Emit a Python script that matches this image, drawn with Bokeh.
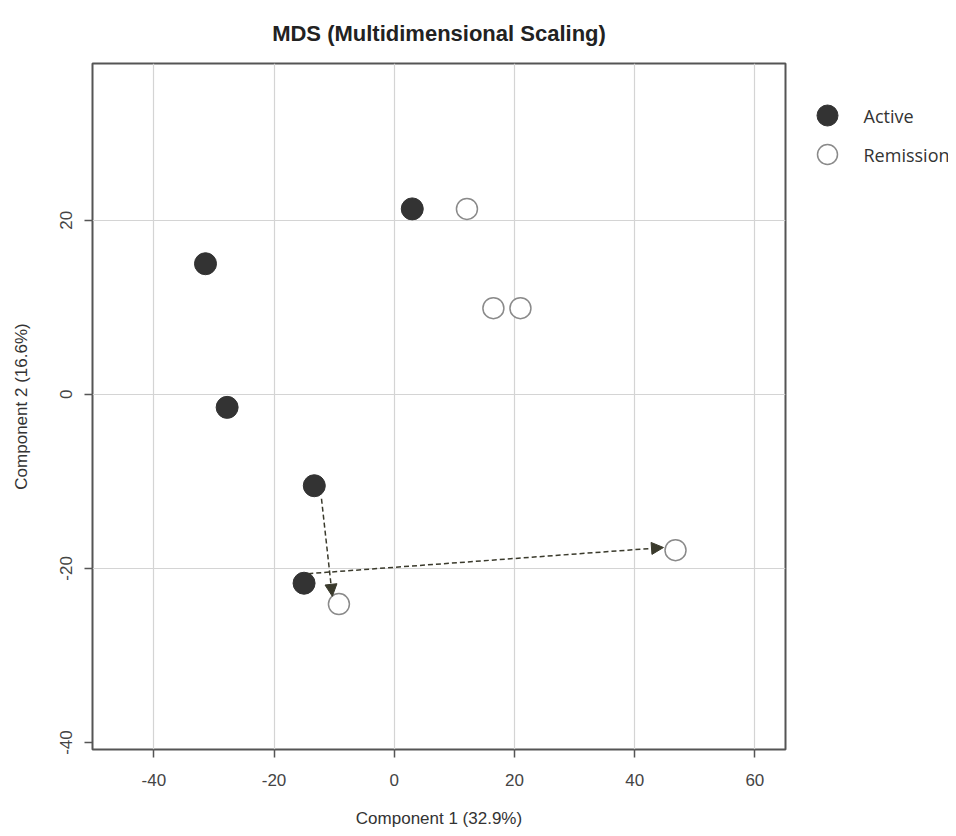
from bokeh.plotting import figure
from bokeh.models import (Range1d, FixedTicker, Arrow, NormalHead, ColumnDataSource, Title)
from bokeh.layouts import row
from bokeh.embed import file_html
from bokeh.resources import INLINE
from bokeh.core.properties import value

# ---- data ----
active_x = [3.0, -31.4, -27.8, -13.3, -15.0]
active_y = [21.3, 15.0, -1.5, -10.5, -21.7]
remission_x = [12.1, 16.5, 21.0, -9.2, 46.8]
remission_y = [21.3, 9.9, 9.9, -24.1, -17.9]

arrow_x0 = [-12.1, -14.3]
arrow_y0 = [-12.0, -20.6]
arrow_x1 = [-10.3, 44.8]
arrow_y1 = [-23.2, -17.6]

x_ticks = [-40, -20, 0, 20, 40, 60]
y_ticks = [-40, -20, 0, 20]
y_grid = [-20, 0, 20]
groups = ["Active", "Remission"]

title_text = "MDS (Multidimensional Scaling)"
x_label = "Component 1 (32.9%)"
y_label = "Component 2 (16.6%)"

FONT = "Liberation Sans"
DARK = "#333333"
ARROW_COL = "#3a3a2c"

H = 836
TOP, BOTTOM = 63, 87
X0, X1 = -50.2, 65.1
Y0, Y1 = -40.8, 38.0

p = figure(width=800, height=H, output_backend="svg", toolbar_location=None,
           x_range=Range1d(X0, X1), y_range=Range1d(Y0, Y1),
           min_border_left=92, min_border_right=15, min_border_top=TOP, min_border_bottom=BOTTOM)

t = Title(text=title_text, align="center", text_font=FONT, text_font_size="22px",
          text_font_style="bold", text_color="#222222", standoff=36)
p.add_layout(t, "above")

p.outline_line_color = "#555555"
p.outline_line_width = 2
p.background_fill_color = "white"
p.border_fill_color = "white"

for ax, ticks, lab in ((p.xaxis[0], x_ticks, x_label), (p.yaxis[0], y_ticks, y_label)):
    ax.ticker = FixedTicker(ticks=ticks)
    ax.major_label_overrides = {t_: str(t_) for t_ in ticks}
    ax.axis_line_color = None
    ax.major_tick_line_color = "#555555"
    ax.major_tick_line_width = 1.5
    ax.major_tick_out = 8
    ax.major_tick_in = 0
    ax.minor_tick_line_color = None
    ax.major_label_text_font = FONT
    ax.major_label_text_font_size = "17px"
    ax.major_label_text_color = "#444444"
    ax.axis_label = lab
    ax.axis_label_text_font = FONT
    ax.axis_label_text_font_size = "17px"
    ax.axis_label_text_font_style = "normal"
    ax.axis_label_text_color = "#333333"

p.xaxis.major_label_standoff = 16
p.xaxis.axis_label_standoff = 20
p.yaxis.major_label_orientation = "vertical"
p.yaxis.major_label_standoff = 12
p.yaxis.axis_label_standoff = 27

p.xgrid.ticker = FixedTicker(ticks=x_ticks)
p.ygrid.ticker = FixedTicker(ticks=y_grid)
p.xgrid.grid_line_color = "#d4d4d4"
p.ygrid.grid_line_color = "#d4d4d4"
p.xgrid.grid_line_width = 1.2
p.ygrid.grid_line_width = 1.2

p.scatter(active_x, active_y, size=22, fill_color=DARK, line_color=DARK)
p.scatter(remission_x, remission_y, size=21, fill_color="white", line_color="#8a8a8a", line_width=1.5)

asrc = ColumnDataSource(dict(x0=arrow_x0, y0=arrow_y0, x1=arrow_x1, y1=arrow_y1))
p.add_layout(Arrow(source=asrc, x_start="x0", y_start="y0", x_end="x1", y_end="y1",
                   line_color=ARROW_COL, line_width=1.5, line_dash="5 3",
                   end=NormalHead(size=12, fill_color=ARROW_COL, line_color=ARROW_COL, line_width=1)))

# ---- legend panel (pixel coordinates of the page) ----
lg = figure(width=148, height=H, output_backend="svg", toolbar_location=None,
            x_range=Range1d(800, 948), y_range=Range1d(H - BOTTOM, TOP),
            x_axis_type=None, y_axis_type=None,
            min_border_left=0, min_border_right=0, min_border_top=TOP, min_border_bottom=BOTTOM)
lg.outline_line_color = None
lg.grid.visible = False
lg.background_fill_color = "white"
lg.border_fill_color = "white"
leg_y = [115, 154]
lg.scatter([827], [leg_y[0]], size=21, fill_color=DARK, line_color=DARK)
lg.scatter([827], [leg_y[1]], size=20, fill_color="white", line_color="#8a8a8a", line_width=1.5)
lg.text([863, 863], leg_y, text=groups, text_font=value("Open Sans"), text_font_size="18px",
        text_color="#333333", text_baseline="middle", text_align="left")

layout = row(p, lg)
open("out.html", "w").write(file_html(layout, INLINE))
